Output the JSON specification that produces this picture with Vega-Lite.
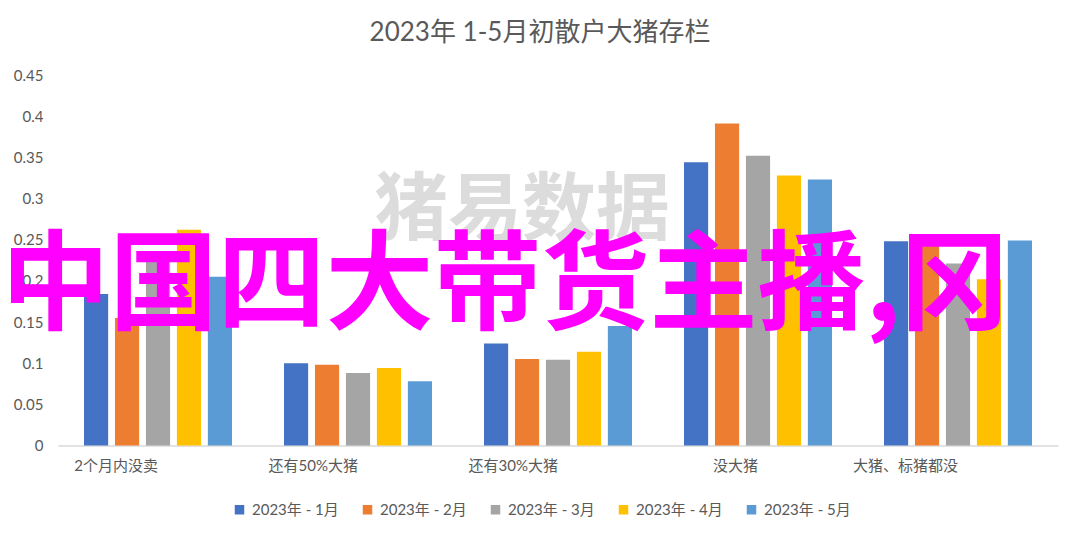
{
  "$schema": "https://vega.github.io/schema/vega-lite/v6.json",
  "autosize": {"type": "none"},
  "width": 1000,
  "height": 370.5,
  "padding": {"left": 58, "top": 75, "right": 22, "bottom": 94.5},
  "background": "#ffffff",
  "title": {
    "text": "2023年 1-5月初散户大猪存栏",
    "font": "Lato, Noto Sans CJK SC",
    "fontSize": 26,
    "fontWeight": "normal",
    "color": "#595959",
    "anchor": "middle",
    "dx": -18,
    "offset": 22
  },
  "datasets": {
    "bars": [
      {"类别": "2个月内没卖", "月份": "2023年 - 1月", "值": 0.184},
      {"类别": "2个月内没卖", "月份": "2023年 - 2月", "值": 0.155},
      {"类别": "2个月内没卖", "月份": "2023年 - 3月", "值": 0.235},
      {"类别": "2个月内没卖", "月份": "2023年 - 4月", "值": 0.262},
      {"类别": "2个月内没卖", "月份": "2023年 - 5月", "值": 0.205},
      {"类别": "还有50%大猪", "月份": "2023年 - 1月", "值": 0.100},
      {"类别": "还有50%大猪", "月份": "2023年 - 2月", "值": 0.098},
      {"类别": "还有50%大猪", "月份": "2023年 - 3月", "值": 0.088},
      {"类别": "还有50%大猪", "月份": "2023年 - 4月", "值": 0.094},
      {"类别": "还有50%大猪", "月份": "2023年 - 5月", "值": 0.078},
      {"类别": "还有30%大猪", "月份": "2023年 - 1月", "值": 0.124},
      {"类别": "还有30%大猪", "月份": "2023年 - 2月", "值": 0.105},
      {"类别": "还有30%大猪", "月份": "2023年 - 3月", "值": 0.104},
      {"类别": "还有30%大猪", "月份": "2023年 - 4月", "值": 0.114},
      {"类别": "还有30%大猪", "月份": "2023年 - 5月", "值": 0.145},
      {"类别": "没大猪", "月份": "2023年 - 1月", "值": 0.344},
      {"类别": "没大猪", "月份": "2023年 - 2月", "值": 0.391},
      {"类别": "没大猪", "月份": "2023年 - 3月", "值": 0.352},
      {"类别": "没大猪", "月份": "2023年 - 4月", "值": 0.328},
      {"类别": "没大猪", "月份": "2023年 - 5月", "值": 0.323},
      {"类别": "大猪、标猪都没", "月份": "2023年 - 1月", "值": 0.248},
      {"类别": "大猪、标猪都没", "月份": "2023年 - 2月", "值": 0.252},
      {"类别": "大猪、标猪都没", "月份": "2023年 - 3月", "值": 0.221},
      {"类别": "大猪、标猪都没", "月份": "2023年 - 4月", "值": 0.202},
      {"类别": "大猪、标猪都没", "月份": "2023年 - 5月", "值": 0.249}
    ],
    "overlay": [
      {"类别": "还有30%大猪", "值": 0.19, "文字": "中国四大带货主播,冈"}
    ],
    "watermark": [
      {"类别": "还有30%大猪", "值": 0.283, "文字": "猪易数据"}
    ]
  },
  "layer": [
    {
      "data": {"name": "watermark"},
      "mark": {"type": "text", "font": "Noto Sans CJK SC", "fontSize": 74, "fontWeight": "bold", "color": "#dcdcdc", "baseline": "middle", "align": "center", "dx": -36},
      "encoding": {
        "x": {"field": "类别", "type": "nominal"},
        "y": {"field": "值", "type": "quantitative"},
        "text": {"field": "文字"}
      }
    },
    {
      "data": {"name": "bars"},
      "mark": {"type": "bar"},
      "encoding": {
        "x": {
          "field": "类别",
          "type": "nominal",
          "scale": {
            "domain": ["2个月内没卖", "还有50%大猪", "还有30%大猪", "没大猪", "大猪、标猪都没"],
            "paddingInner": 0.26,
            "paddingOuter": 0.13
          },
          "axis": {
            "title": null,
            "labelAngle": 0,
            "labelFontSize": 15,
            "labelColor": "#595959",
            "labelFont": "Lato, Noto Sans CJK SC",
            "labelPadding": 20,
            "ticks": false,
            "domainColor": "#d9d9d9",
            "domainWidth": 1.5
          }
        },
        "xOffset": {
          "field": "月份",
          "type": "nominal",
          "sort": null,
          "scale": {"paddingInner": 0.22, "paddingOuter": 0}
        },
        "y": {
          "field": "值",
          "type": "quantitative",
          "scale": {"domain": [0, 0.45]},
          "axis": {
            "title": null,
            "values": [0, 0.05, 0.1, 0.15, 0.2, 0.25, 0.3, 0.35, 0.4, 0.45],
            "format": ".2~f",
            "labelFontSize": 15,
            "labelColor": "#595959",
            "labelFont": "Lato, Noto Sans CJK SC",
            "labelPadding": 15,
            "domain": false,
            "ticks": false,
            "grid": false
          }
        },
        "color": {
          "field": "月份",
          "type": "nominal",
          "sort": null,
          "scale": {
            "domain": ["2023年 - 1月", "2023年 - 2月", "2023年 - 3月", "2023年 - 4月", "2023年 - 5月"],
            "range": ["#4472C4", "#ED7D31", "#A5A5A5", "#FFC000", "#5B9BD5"]
          },
          "legend": {
            "title": null,
            "orient": "none",
            "legendX": 174,
            "legendY": 427,
            "direction": "horizontal",
            "symbolType": "square",
            "symbolSize": 90,
            "symbolStrokeWidth": 0,
            "labelFontSize": 15,
            "labelColor": "#595959",
            "labelFont": "Lato, Noto Sans CJK SC",
            "columnPadding": 21,
            "labelOffset": 5
          }
        }
      }
    },
    {
      "data": {"name": "overlay"},
      "mark": {"type": "text", "font": "Noto Sans CJK SC", "fontSize": 108, "fontWeight": "bold", "color": "#FF00FF", "baseline": "middle", "align": "center", "dx": -53},
      "encoding": {
        "x": {"field": "类别", "type": "nominal"},
        "y": {"field": "值", "type": "quantitative"},
        "text": {"field": "文字"}
      }
    }
  ],
  "config": {
    "view": {"stroke": null}
  }
}
